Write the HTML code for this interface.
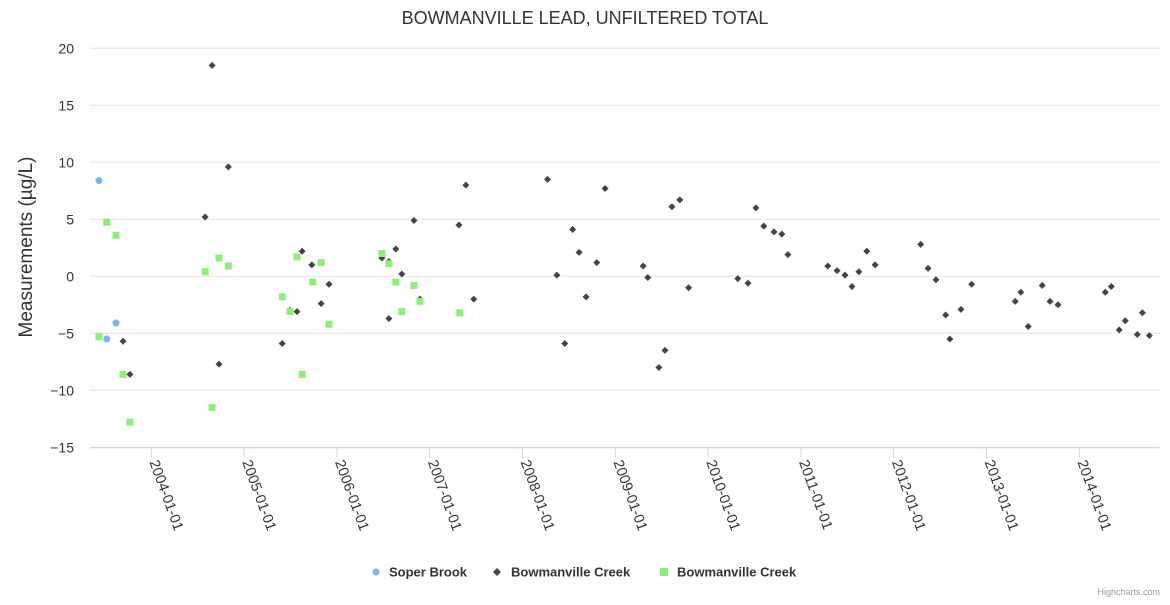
<!DOCTYPE html>
<html><head><meta charset="utf-8"><style>
body{margin:0;background:#fff;font-family:"Liberation Sans",sans-serif}
</style></head><body>
<svg id="chart" width="1170" height="600" xmlns="http://www.w3.org/2000/svg" font-family="Liberation Sans, sans-serif">
<text x="585" y="24" text-anchor="middle" font-size="18" fill="#333">BOWMANVILLE LEAD, UNFILTERED TOTAL</text>
<text transform="translate(32,247) rotate(-90)" text-anchor="middle" font-size="19" fill="#333">Measurements (µg/L)</text>
<g id="grid"></g><g id="marks"></g>
<g font-size="13" font-weight="bold" fill="#333">
<g><circle cx="376" cy="572" r="3.5" fill="#7cb5ec"/><text x="389" y="576.5">Soper Brook</text></g>
<g><path d="M497,568 L501,572 L497,576 L493,572Z" fill="#434348"/><text x="511" y="576.5">Bowmanville Creek</text></g>
<g><rect x="660" y="568" width="8" height="8" fill="#90ed7d"/><text x="677" y="576.5">Bowmanville Creek</text></g>
</g>
<text x="1160" y="595" text-anchor="end" font-size="9" fill="#999">Highcharts.com</text>
</svg>
<script>
const yTicks=[20,15,10,5,0,-5,-10,-15];
const xTickYears=[2004,2005,2006,2007,2008,2009,2010,2011,2012,2013,2014];
const soperDates=[2003.436,2003.52,2003.62];
const soperValues=[8.4,-5.5,-4.1];
const creekDates=[2003.695,2003.77,2004.58,2004.655,2004.73,2004.83,2005.41,2005.495,2005.57,2005.625,2005.73,2005.83,2005.915,2006.485,2006.56,2006.56,2006.635,2006.70,2006.83,2006.895,2007.315,2007.39,2007.475,2008.27,2008.37,2008.455,2008.54,2008.61,2008.685,2008.80,2008.89,2009.30,2009.35,2009.47,2009.535,2009.61,2009.695,2009.79,2010.32,2010.43,2010.515,2010.60,2010.71,2010.795,2010.86,2011.29,2011.39,2011.475,2011.55,2011.625,2011.71,2011.80,2012.29,2012.37,2012.455,2012.56,2012.605,2012.725,2012.84,2013.31,2013.37,2013.45,2013.60,2013.685,2013.77,2014.28,2014.345,2014.43,2014.495,2014.625,2014.68,2014.755];
const creekValues=[-5.7,-8.6,5.2,18.5,-7.7,9.6,-5.9,-3.0,-3.1,2.2,1.0,-2.4,-0.7,1.6,-3.7,1.3,2.4,0.2,4.9,-2.0,4.5,8.0,-2.0,8.5,0.1,-5.9,4.1,2.1,-1.8,1.2,7.7,0.9,-0.1,-8.0,-6.5,6.1,6.7,-1.0,-0.2,-0.6,6.0,4.4,3.9,3.7,1.9,0.9,0.5,0.1,-0.9,0.4,2.2,1.0,2.8,0.7,-0.3,-3.4,-5.5,-2.9,-0.7,-2.2,-1.4,-4.4,-0.8,-2.2,-2.5,-1.4,-0.9,-4.7,-3.9,-5.1,-3.2,-5.2];
const greenDates=[2003.436,2003.52,2003.62,2003.695,2003.77,2004.58,2004.655,2004.73,2004.83,2005.41,2005.495,2005.57,2005.625,2005.74,2005.83,2005.915,2006.485,2006.56,2006.635,2006.70,2006.83,2006.895,2007.325];
const greenValues=[-5.3,4.75,3.6,-8.6,-12.8,0.4,-11.5,1.6,0.9,-1.8,-3.1,1.7,-8.6,-0.5,1.2,-4.2,2.0,1.1,-0.5,-3.1,-0.8,-2.2,-3.2];
const NS='http://www.w3.org/2000/svg';
const xs=y=>151.3+(y-2004)*92.8;
const ys=v=>276.3-v*57/5;
const grid=document.getElementById('grid'),marks=document.getElementById('marks');
function mk(tag,attrs,parent){const e=document.createElementNS(NS,tag);for(const k in attrs)e.setAttribute(k,attrs[k]);parent.appendChild(e);return e;}
yTicks.forEach(v=>{
 const l=mk('line',{x1:90,x2:1160,y1:ys(v),y2:ys(v),stroke:'#e6e6e6'},grid);
 
 
 const t=mk('text',{x:74,y:ys(v)+5,'text-anchor':'end','font-size':14,fill:'#333'},grid);
 
 
 t.textContent=v===0?'0':(v<0?'−'+(-v):String(v));
});
const ax=mk('line',{x1:90,x2:1160,y1:447.8,y2:447.8,stroke:'#ccd6eb'},grid);


xTickYears.forEach(y=>{
 const x=xs(y);
 const tk=mk('line',{x1:x,x2:x,y1:448,y2:458,stroke:'#ccd6eb'},grid);
 
 
 const t=mk('text',{transform:`translate(${x-2},${462}) rotate(70)`,'font-size':14.5,fill:'#333'},grid);
 
 
 t.textContent=y+'-01-01';
});
soperDates.forEach((d,i)=>{
 const c=mk('circle',{cx:xs(d),cy:ys(soperValues[i]),r:3.5,fill:'#7cb5ec'},marks);
 
 
});
creekDates.forEach((d,i)=>{
 const x=xs(d),y=ys(creekValues[i]);
 const p=mk('path',{d:`M${x},${y-3.5}L${x+3.5},${y}L${x},${y+3.5}L${x-3.5},${y}Z`,fill:'#434348'},marks);
 
 
});
greenDates.forEach((d,i)=>{
 const r=mk('rect',{x:xs(d)-3.5,y:ys(greenValues[i])-3.5,width:7,height:7,fill:'#90ed7d'},marks);
 
 
});
</script>
</body></html>
